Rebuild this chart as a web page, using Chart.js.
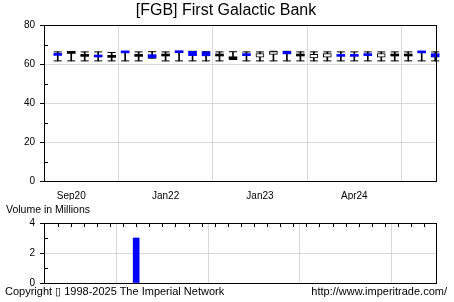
<!DOCTYPE html>
<html>
<head>
<meta charset="utf-8">
<script src="https://cdn.jsdelivr.net/npm/chart.js@4.4.1/dist/chart.umd.min.js"></script>
<style>
  body { margin: 0; background: #fff; }
  #wrap { position: relative; width: 454px; height: 302px; overflow: hidden;
          font-family: "Liberation Sans", Arial, sans-serif; color: #000; }
  canvas { position: absolute; left: 0; }
  .txt { position: absolute; white-space: nowrap; }
  #title { top: 1px; left: 0; width: 452px; text-align: center; font-size: 16px; line-height: 18px; }
  #volLabel { top: 203px; left: 6px; font-size: 10.5px; line-height: 12px; }
  #copy { top: 285px; left: 5px; font-size: 11px; line-height: 13px; }
  #url { top: 285px; right: 7px; font-size: 11px; line-height: 13px; }
</style>
</head>
<body>
<div id="wrap">
  <canvas id="price" width="454" height="200" style="top:0px;width:454px;height:200px"></canvas>
  <canvas id="vol" width="454" height="82" style="top:212px;width:454px;height:82px"></canvas>
  <div class="txt" id="title">[FGB] First Galactic Bank</div>
  <div class="txt" id="volLabel">Volume in Millions</div>
  <div class="txt" id="copy">Copyright &#x25AF; 1998-2025 The Imperial Network</div>
  <div class="txt" id="url">http://www.imperitrade.com/</div>
</div>
<script>
// labelled positions on the time axis
const tickAt = [1, 8, 15, 22];
const tickLabels = ['Sep20', 'Jan22', 'Jan23', 'Apr24'];

// one entry per period
const openP  = [64.4, 66.4, 64.2, 63.6, 64.3, 65.7, 64.2, 63.2, 64.4, 65.8,
                64.3, 64.2, 64.4, 63.7, 64.3, 63.5, 64.9, 65.2, 64.4, 63.1,
                63.5, 63.9, 63.9, 64.3, 63.5, 65.0, 64.4, 65.7, 63.6];
const closeP = [64.8, 65.4, 63.9, 64.6, 63.4, 66.0, 63.9, 64.8, 64.1, 66.1,
                66.5, 66.2, 64.1, 62.4, 64.7, 65.4, 66.4, 66.4, 64.1, 64.9,
                65.3, 64.7, 64.7, 64.6, 65.4, 64.1, 64.1, 66.0, 65.3];
const highP  = [66.2, 66.4, 66.2, 66.2, 65.9, 66.3, 66.2, 66.3, 66.2, 66.3,
                66.5, 66.3, 66.2, 66.3, 66.2, 66.2, 66.5, 66.5, 66.2, 66.2,
                66.2, 66.2, 66.2, 66.2, 66.2, 66.2, 66.2, 66.2, 66.2];
const lowP   = [61.6, 61.6, 61.6, 61.6, 61.6, 61.6, 61.6, 63.0, 61.6, 61.6,
                61.6, 61.6, 61.6, 62.3, 61.6, 61.6, 61.6, 61.6, 61.6, 61.6,
                61.6, 61.6, 61.6, 61.6, 61.6, 61.6, 61.6, 61.6, 61.6];
// up / down / hold
const moves  = ['up', 'down', 'down', 'up', 'down', 'up', 'down', 'up', 'down', 'up',
                'up', 'up', 'down', 'down', 'up', 'hold', 'hold', 'up', 'down', 'hold',
                'hold', 'up', 'up', 'up', 'hold', 'down', 'down', 'up', 'up'];
const volume = [0, 0, 0, 0, 0, 0, 3, 0, 0, 0,
                0, 0, 0, 0, 0, 0, 0, 0, 0, 0,
                0, 0, 0, 0, 0, 0, 0, 0, 0];

const idx = openP.map((v, i) => i);
const gridGrey = '#d9d9d9';
const clear = 'rgba(0,0,0,0)';
const tickFont = { family: '"Liberation Sans", Arial, sans-serif', size: 10 };

// frame round the plot, inner minor ticks, ticks along the top
const framePlugin = {
  id: 'frame',
  afterDatasetsDraw(chart, args, opts) {
    const { ctx, chartArea: a, scales } = chart;
    ctx.save();
    ctx.strokeStyle = '#000';
    ctx.lineWidth = 1;
    ctx.strokeRect(a.left + 0.5, a.top + 0.5, a.right - a.left, a.bottom - a.top);
    ctx.beginPath();
    scales.y.ticks.forEach(t => {
      if (t.value % opts.major !== 0) {
        const y = Math.round(scales.y.getPixelForValue(t.value)) + 0.5;
        ctx.moveTo(a.left, y);
        ctx.lineTo(a.left + 4, y);
      }
    });
    if (opts.topTicks) {
      opts.topTicks.forEach(v => {
        const x = Math.round(scales.x.getPixelForValue(v)) + 0.5;
        ctx.moveTo(x, a.top);
        ctx.lineTo(x, a.top + 4);
      });
    }
    ctx.stroke();
    ctx.restore();
  }
};

const bodyColor = i => moves[i] === 'up' ? '#0000ff' : (moves[i] === 'down' ? '#000000' : '#ffffff');

new Chart(document.getElementById('price'), {
  type: 'bar',
  data: {
    datasets: [
      {
        type: 'bar',
        data: idx.map(i => ({ x: i, y: [openP[i], closeP[i]] })),
        backgroundColor: c => bodyColor(c.dataIndex),
        borderColor: '#000',
        borderWidth: c => moves[c.dataIndex] === 'hold' ? 1 : 0,
        borderSkipped: false,
        barThickness: 8,
        minBarLength: 2,
        grouped: false,
        clip: false,
        order: 1
      },
      {
        type: 'scatter',
        data: idx.map(i => ({ x: i, y: highP[i] })).concat(idx.map(i => ({ x: i, y: lowP[i] }))),
        pointStyle: 'line',
        pointRadius: 4,
        pointBorderColor: '#000',
        pointBorderWidth: 1,
        clip: false,
        order: 2
      },
      {
        type: 'bar',
        data: idx.map(i => ({ x: i, y: [lowP[i], highP[i]] })),
        backgroundColor: '#000',
        barThickness: 1,
        grouped: false,
        clip: false,
        order: 3
      }
    ]
  },
  options: {
    responsive: false,
    animation: false,
    events: [],
    layout: { padding: { top: 25, right: 18, bottom: 0, left: 0 } },
    plugins: {
      legend: { display: false },
      tooltip: { enabled: false },
      frame: { major: 20 }
    },
    scales: {
      x: {
        type: 'linear',
        min: -1.02,
        max: 28.06,
        offset: false,
        afterBuildTicks: s => { s.ticks = tickAt.map(v => ({ value: v })); },
        afterFit: s => { s.height = 19; },
        ticks: {
          autoSkip: false,
          maxRotation: 0,
          padding: 9,
          color: '#000',
          font: tickFont,
          callback: (v, i) => tickLabels[i]
        },
        grid: { color: gridGrey, drawTicks: false },
        border: { color: '#000' }
      },
      y: {
        min: 0,
        max: 80,
        afterFit: s => { s.width = 44; },
        ticks: {
          stepSize: 10,
          padding: 5,
          color: '#000',
          font: tickFont,
          callback: v => v % 20 === 0 ? v : ''
        },
        grid: {
          color: c => (c.tick.value % 20 === 0 && c.tick.value > 0 && c.tick.value < 80) ? gridGrey : clear,
          tickColor: c => c.tick.value % 20 === 0 ? '#000' : clear,
          tickLength: 4
        },
        border: { color: '#000' }
      }
    }
  },
  plugins: [framePlugin]
});

new Chart(document.getElementById('vol'), {
  type: 'bar',
  data: {
    datasets: [{
      // periods with no volume get no bar at all
      data: idx.map(i => ({ x: i, y: volume[i] > 0 ? volume[i] : null })),
      backgroundColor: '#0000ff',
      borderWidth: 0,
      barThickness: 6,
      grouped: false
    }]
  },
  options: {
    responsive: false,
    animation: false,
    events: [],
    layout: { padding: { top: 7, right: 18, bottom: 11, left: 0 } },
    plugins: {
      legend: { display: false },
      tooltip: { enabled: false },
      frame: { major: 2, topTicks: idx }
    },
    scales: {
      x: {
        type: 'linear',
        min: -1.04,
        max: 28.9,
        offset: false,
        afterBuildTicks: s => { s.ticks = tickAt.map(v => ({ value: v })); },
        afterFit: s => { s.height = 0; },
        ticks: { display: false },
        grid: { color: gridGrey, drawTicks: false },
        border: { color: '#000' }
      },
      y: {
        min: 0,
        max: 4,
        afterFit: s => { s.width = 44; },
        ticks: {
          stepSize: 1,
          padding: 5,
          color: '#000',
          font: tickFont,
          callback: v => v % 2 === 0 ? v : ''
        },
        grid: {
          color: c => c.tick.value === 2 ? gridGrey : clear,
          tickColor: c => c.tick.value % 2 === 0 ? '#000' : clear,
          tickLength: 4
        },
        border: { color: '#000' }
      }
    }
  },
  plugins: [framePlugin]
});
</script>
</body>
</html>
